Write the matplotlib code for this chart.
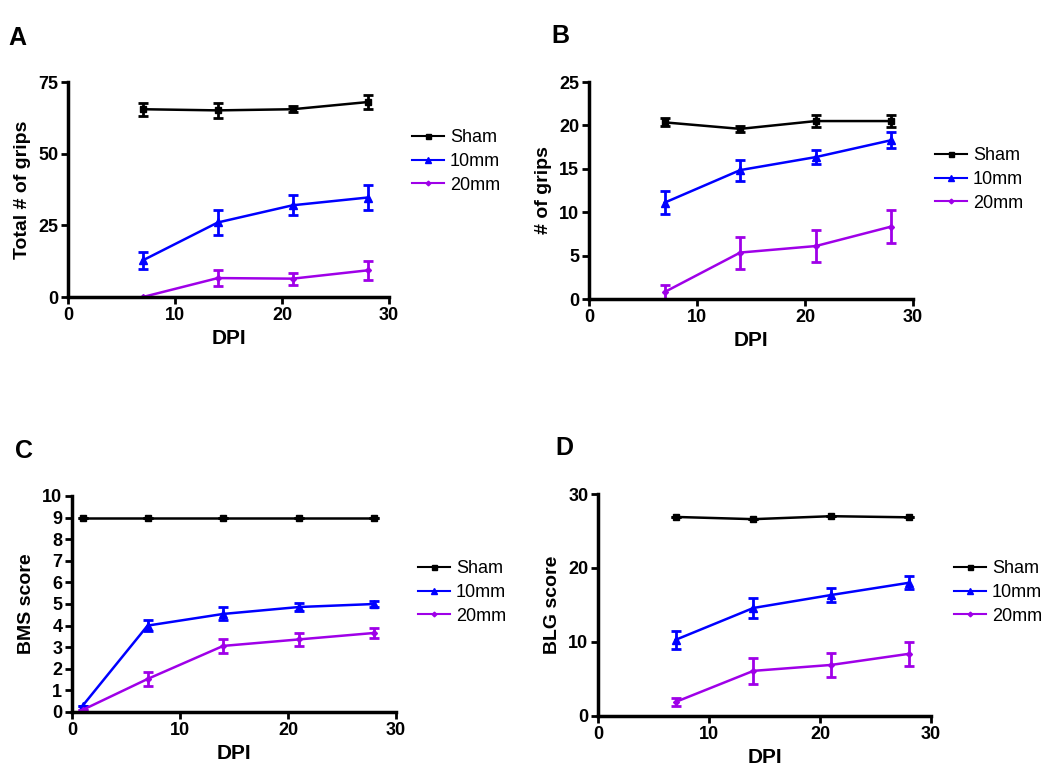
import matplotlib
matplotlib.use('Agg')
import matplotlib.pyplot as plt

plt.rcParams['font.family'] = ['Liberation Sans', 'DejaVu Sans']

# ---- data ----
days = [7, 14, 21, 28]
days_c = [1, 7, 14, 21, 28]
groups = ['Sham', '10mm', '20mm']

a_sham = [65.5, 65.1, 65.5, 68.0]
a_sham_err = [2.3, 2.7, 1.0, 2.3]
a_10 = [12.8, 26.0, 32.0, 34.7]
a_10_err = [2.9, 4.2, 3.5, 4.2]
a_20 = [0.0, 6.6, 6.4, 9.3]
a_20_err = [0.0, 2.9, 2.1, 3.2]

b_sham = [20.35, 19.6, 20.5, 20.5]
b_sham_err = [0.45, 0.35, 0.7, 0.65]
b_10 = [11.1, 14.85, 16.35, 18.3]
b_10_err = [1.3, 1.2, 0.85, 0.9]
b_20 = [0.8, 5.35, 6.1, 8.35]
b_20_err = [0.8, 1.85, 1.8, 1.95]

c_sham = [9, 9, 9, 9, 9]
c_sham_err = [0, 0, 0, 0, 0]
c_10 = [0.3, 4.0, 4.54, 4.86, 5.0]
c_10_err = [0, 0.27, 0.3, 0.18, 0.15]
c_20 = [0.1, 1.53, 3.06, 3.36, 3.66]
c_20_err = [0, 0.34, 0.31, 0.3, 0.23]

d_sham = [26.9, 26.6, 27.0, 26.85]
d_sham_err = [0, 0, 0, 0]
d_10 = [10.3, 14.6, 16.35, 18.0]
d_10_err = [1.2, 1.4, 0.9, 0.9]
d_20 = [1.9, 6.1, 6.9, 8.4]
d_20_err = [0.6, 1.75, 1.6, 1.6]

colors = ['black', '#0000ff', '#9f00e8']
markers = ['s', '^', 'D']
msizes = [4.5, 5.5, 3.0]

W, H = 1050, 773
fig = plt.figure(figsize=(W / 100, H / 100), dpi=100)


def box(left, right, top, bottom):
    return [left / W, 1 - bottom / H, (right - left) / W, (bottom - top) / H]


panels = [
    dict(letter='A', rect=box(68, 389, 82, 297), x=days,
         series=[(a_sham, a_sham_err), (a_10, a_10_err), (a_20, a_20_err)],
         ylim=75, yticks=[0, 25, 50, 75], ylabel='Total # of grips',
         letter_pos=(8, 38), leg=(412, 129)),
    dict(letter='B', rect=box(589, 913, 82, 299), x=days,
         series=[(b_sham, b_sham_err), (b_10, b_10_err), (b_20, b_20_err)],
         ylim=25, yticks=[0, 5, 10, 15, 20, 25], ylabel='# of grips',
         letter_pos=(551, 36), leg=(935, 147)),
    dict(letter='C', rect=box(72, 396, 496, 712), x=days_c,
         series=[(c_sham, c_sham_err), (c_10, c_10_err), (c_20, c_20_err)],
         ylim=10, yticks=list(range(11)), ylabel='BMS score',
         letter_pos=(15, 451), leg=(418, 560)),
    dict(letter='D', rect=box(598, 931, 494, 716), x=days,
         series=[(d_sham, d_sham_err), (d_10, d_10_err), (d_20, d_20_err)],
         ylim=30, yticks=[0, 10, 20, 30], ylabel='BLG score',
         letter_pos=(555, 448), leg=(954, 560)),
]

for p in panels:
    ax = fig.add_axes(p['rect'])
    handles = []
    for (vals, errs), name, c, m, ms in zip(p['series'], groups, colors, markers, msizes):
        ax.errorbar(p['x'], vals, yerr=errs, fmt='none', ecolor=c,
                    elinewidth=2, capsize=3.5, capthick=2)
        h, = ax.plot(p['x'], vals, color=c, lw=1.8, marker=m, markersize=ms,
                     label=name)
        handles.append(h)
    ax.set_xlim(0, 30)
    ax.set_ylim(0, p['ylim'])
    ax.set_xticks([0, 10, 20, 30])
    ax.set_yticks(p['yticks'])
    for s in ['top', 'right']:
        ax.spines[s].set_visible(False)
    for s in ['left', 'bottom']:
        ax.spines[s].set_linewidth(2.5)
    ax.tick_params(direction='out', length=5, width=2, labelsize=13, pad=2)
    for lab in ax.get_xticklabels() + ax.get_yticklabels():
        lab.set_fontweight('bold')
    ax.set_xlabel('DPI', fontsize=15, fontweight='bold', labelpad=4)
    ax.set_ylabel(p['ylabel'], fontsize=14, fontweight='bold', labelpad=5)
    fig.text(p['letter_pos'][0] / W, 1 - p['letter_pos'][1] / H, p['letter'],
             fontsize=18, fontweight='bold', va='center', ha='left')
    leg = fig.legend(handles=handles, loc='upper left',
                     bbox_to_anchor=(p['leg'][0] / W, 1 - p['leg'][1] / H),
                     frameon=False, fontsize=13, handlelength=1.75, handletextpad=0.35,
                     labelspacing=0.38, borderpad=0, borderaxespad=0, numpoints=1,
                     markerscale=0.8)
    for ln in leg.get_lines():
        ln.set_linewidth(1.5)

fig.savefig('out.png', dpi=100)
